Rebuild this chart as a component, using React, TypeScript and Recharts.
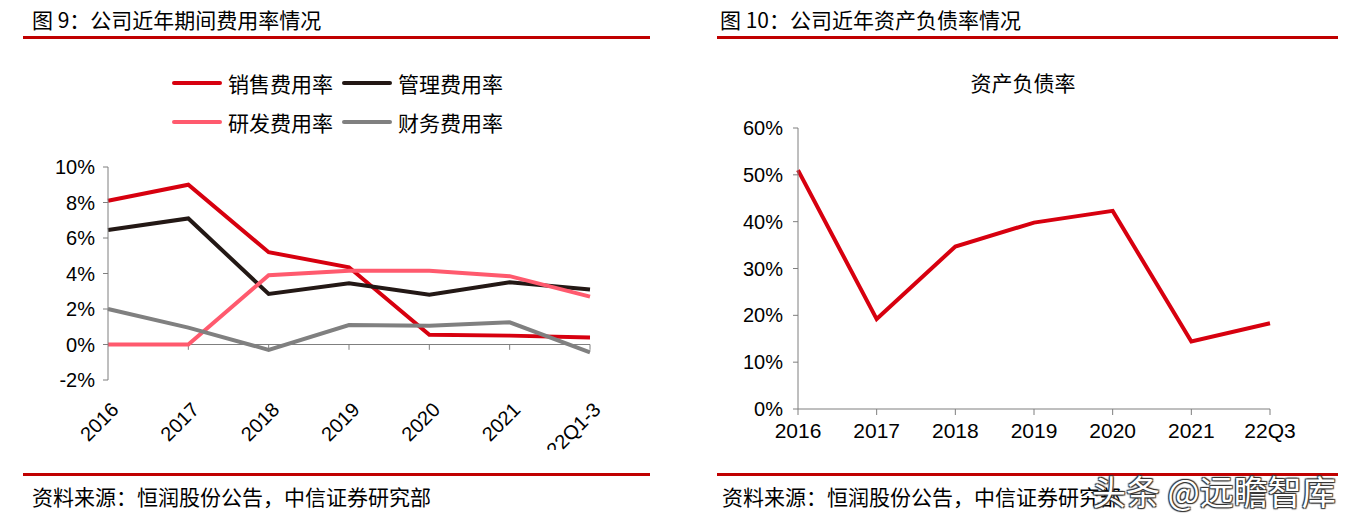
import React from 'react';
import { LineChart, Line, XAxis, YAxis, ReferenceLine } from 'recharts';

// 图9 期间费用率 (%)
const years9 = ['2016', '2017', '2018', '2019', '2020', '2021', '22Q1-3'];
const salesRate = [8.1, 9.0, 5.2, 4.35, 0.55, 0.5, 0.4];
const adminRate = [6.45, 7.1, 2.85, 3.45, 2.8, 3.5, 3.1];
const rdRate = [0, 0, 3.9, 4.15, 4.15, 3.85, 2.7];
const financeRate = [2.0, 0.95, -0.3, 1.1, 1.05, 1.25, -0.45];
const ticks9 = [-2, 0, 2, 4, 6, 8, 10];

// 图10 资产负债率 (%)
const years10 = ['2016', '2017', '2018', '2019', '2020', '2021', '22Q3'];
const debtRatio = [51.0, 19.2, 34.7, 39.8, 42.3, 14.4, 18.3];
const ticks10 = [0, 10, 20, 30, 40, 50, 60];

const RED = '#d7000f';
const BLACK = '#231815';
const PINK = '#ff5a6e';
const GRAY = '#808080';
const AXIS = '#7f7f7f';
const FONT = '"Liberation Sans", Arial, "Noto Sans CJK SC", sans-serif';
const CJK = '"Noto Sans CJK SC", "Liberation Sans", sans-serif';

const data9 = years9.map((y, i) => ({
  year: y,
  sales: salesRate[i],
  admin: adminRate[i],
  rd: rdRate[i],
  finance: financeRate[i],
}));

const data10 = years10.map((y, i) => ({ year: y, debt: debtRatio[i] }));

const pct = (v: number) => `${v}%`;

const RotatedTick = (props: any) => {
  const { x, y, payload } = props;
  return (
    <g transform={`translate(${x + 7},${y + 18})`}>
      <text
        transform="rotate(-45)"
        textAnchor="end"
        dy="0.35em"
        fontSize={20}
        fontFamily={FONT}
        fill="#000"
      >
        {payload.value}
      </text>
    </g>
  );
};

const legendItems = [
  { name: '销售费用率', color: RED, left: 172, top: 83 },
  { name: '管理费用率', color: BLACK, left: 342, top: 83 },
  { name: '研发费用率', color: PINK, left: 172, top: 122 },
  { name: '财务费用率', color: GRAY, left: 342, top: 122 },
];

const titleStyle: React.CSSProperties = {
  position: 'absolute',
  top: 4,
  fontSize: 21,
  fontFamily: CJK,
  color: '#000',
  whiteSpace: 'nowrap',
};

const sourceStyle: React.CSSProperties = {
  position: 'absolute',
  top: 481,
  fontSize: 21,
  fontFamily: CJK,
  color: '#000',
  whiteSpace: 'nowrap',
};

const redRule = (left: number, top: number, width: number): React.CSSProperties => ({
  position: 'absolute',
  left,
  top,
  width,
  height: 3,
  background: '#c00000',
});

export default function App() {
  return (
    <div style={{ position: 'absolute', left: 0, top: 0, width: 1355, height: 518, background: '#fff', overflow: 'hidden' }}>
      {/* left panel */}
      <div style={{ ...titleStyle, left: 32 }}>图 9：公司近年期间费用率情况</div>
      <div style={redRule(23, 36, 627)} />

      {legendItems.map((it) => (
        <div key={it.name} style={{ position: 'absolute', left: it.left, top: it.top - 15, height: 30, display: 'flex', alignItems: 'center' }}>
          <div style={{ width: 50, height: 4, background: it.color, borderRadius: 2 }} />
          <span style={{ marginLeft: 6, fontSize: 21, fontFamily: CJK, color: '#000' }}>{it.name}</span>
        </div>
      ))}

      <div style={{ position: 'absolute', left: 30, top: 150 }}>
        <LineChart width={600} height={300} data={data9} margin={{ top: 17, right: 40, bottom: 10, left: 0 }}>
          <XAxis
            dataKey="year"
            axisLine={false}
            tickLine={false}
            height={60}
            interval={0}
            tick={<RotatedTick />}
          />
          <YAxis
            width={78}
            domain={[-2, 10]}
            ticks={ticks9}
            tickFormatter={pct}
            stroke={AXIS}
            tickSize={5}
            tickMargin={8}
            tick={{ fill: '#000', fontSize: 20, fontFamily: FONT }}
          />
          <ReferenceLine y={0} stroke={AXIS} strokeWidth={1} />
          {years9.slice(1).map((y) => (
            <ReferenceLine
              key={y}
              segment={[{ x: y, y: 0 }, { x: y, y: -0.3 }]}
              stroke={AXIS}
              strokeWidth={1}
            />
          ))}
          <Line dataKey="sales" stroke={RED} strokeWidth={4} dot={false} isAnimationActive={false} strokeLinejoin="miter" />
          <Line dataKey="admin" stroke={BLACK} strokeWidth={4} dot={false} isAnimationActive={false} strokeLinejoin="miter" />
          <Line dataKey="rd" stroke={PINK} strokeWidth={4} dot={false} isAnimationActive={false} strokeLinejoin="miter" />
          <Line dataKey="finance" stroke={GRAY} strokeWidth={4} dot={false} isAnimationActive={false} strokeLinejoin="miter" />
        </LineChart>
      </div>

      <div style={redRule(23, 473, 627)} />
      <div style={{ ...sourceStyle, left: 32 }}>资料来源：恒润股份公告，中信证券研究部</div>

      {/* right panel */}
      <div style={{ ...titleStyle, left: 720 }}>图 10：公司近年资产负债率情况</div>
      <div style={redRule(717, 36, 621)} />
      <div style={{ position: 'absolute', left: 923, top: 67, width: 200, textAlign: 'center', fontSize: 21, fontFamily: CJK, color: '#000' }}>
        资产负债率
      </div>

      <div style={{ position: 'absolute', left: 720, top: 110 }}>
        <LineChart width={600} height={340} data={data10} margin={{ top: 18, right: 50, bottom: 0, left: 0 }}>
          <XAxis
            dataKey="year"
            stroke={AXIS}
            tickSize={6}
            tickMargin={8}
            height={41}
            interval={0}
            tick={{ fill: '#000', fontSize: 21, fontFamily: FONT }}
          />
          <YAxis
            width={78}
            domain={[0, 60]}
            ticks={ticks10}
            tickFormatter={pct}
            stroke={AXIS}
            tickSize={5}
            tickMargin={10}
            tick={{ fill: '#000', fontSize: 20, fontFamily: FONT }}
          />
          <Line dataKey="debt" stroke={RED} strokeWidth={4} dot={false} isAnimationActive={false} strokeLinejoin="miter" />
        </LineChart>
      </div>

      <div style={redRule(717, 473, 621)} />
      <div style={{ ...sourceStyle, left: 722 }}>资料来源：恒润股份公告，中信证券研究部</div>

      {/* watermark */}
      <div
        style={{
          position: 'absolute',
          left: 1092,
          top: 466,
          fontSize: 34,
          fontFamily: CJK,
          color: '#fff',
          whiteSpace: 'nowrap',
          textShadow: '1px 1px 1px #333, -1px -1px 1px #333, 1px -1px 1px #333, -1px 1px 1px #333',
        }}
      >
        头条 @远瞻智库
      </div>
    </div>
  );
}
